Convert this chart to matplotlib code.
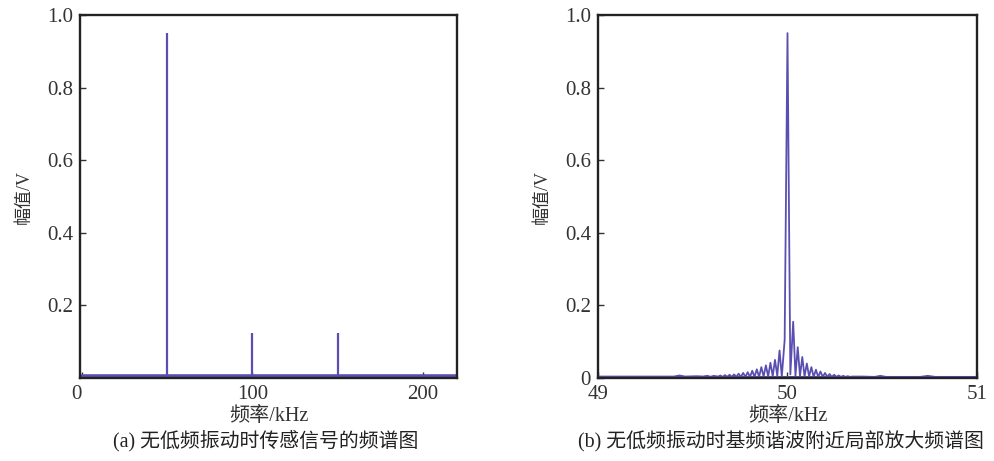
import matplotlib
matplotlib.use('Agg')
import matplotlib.pyplot as plt
import numpy as np

plt.rcParams['font.family'] = ['Liberation Serif', 'Noto Sans CJK SC']
plt.rcParams['axes.unicode_minus'] = False

line_color = '#5a4fb0'

# (a) full spectrum: harmonic lines
harm_f = [50, 100, 150]
harm_a = [0.95, 0.123, 0.123]
base_f = [-1, 220]
base_a = [0.006, 0.006]

# (b) zoom near the fundamental (kHz, V)
zoom_f = [49.00, 49.40, 49.43, 49.46, 49.52, 49.56, 49.58, 49.60,
          49.562, 49.586, 49.610, 49.634, 49.646, 49.658, 49.670, 49.682,
          49.694, 49.706, 49.718, 49.730, 49.742, 49.754, 49.766, 49.778,
          49.790, 49.802, 49.814, 49.826, 49.838, 49.850, 49.862, 49.874,
          49.886, 49.898, 49.910, 49.922, 49.934, 49.946, 49.958, 49.970,
          49.985, 50.000, 50.015, 50.030, 50.042, 50.054, 50.066, 50.078,
          50.090, 50.102, 50.114, 50.126, 50.138, 50.150, 50.162, 50.174,
          50.186, 50.198, 50.210, 50.222, 50.234, 50.246, 50.258, 50.270,
          50.282, 50.294, 50.306, 50.318, 50.330, 50.342, 50.40, 50.46,
          50.49, 50.52, 50.70, 50.74, 50.78, 51.00]
zoom_a = [0.004, 0.004, 0.007, 0.004, 0.005, 0.004, 0.006, 0.004,
          0.005, 0.004, 0.006, 0.004, 0.007, 0.003, 0.008, 0.003,
          0.009, 0.003, 0.010, 0.003, 0.012, 0.003, 0.014, 0.003,
          0.016, 0.003, 0.020, 0.003, 0.024, 0.003, 0.030, 0.004,
          0.035, 0.004, 0.042, 0.005, 0.050, 0.006, 0.076, 0.004,
          0.105, 0.950, 0.010, 0.155, 0.006, 0.085, 0.005, 0.058,
          0.004, 0.040, 0.004, 0.030, 0.003, 0.023, 0.003, 0.018,
          0.003, 0.014, 0.003, 0.011, 0.003, 0.009, 0.003, 0.007,
          0.003, 0.006, 0.003, 0.005, 0.003, 0.004, 0.004, 0.003,
          0.006, 0.003, 0.003, 0.006, 0.003, 0.003]

order = np.argsort(zoom_f)
zf = np.array(zoom_f)[order]
za = np.array(zoom_a)[order]

fig = plt.figure(figsize=(9.94, 4.61), dpi=100)
ax1 = fig.add_axes([0.0805, 0.18, 0.3793, 0.7875])
ax2 = fig.add_axes([0.6016, 0.18, 0.3813, 0.7875])

ax1.plot(base_f, base_a, color=line_color, lw=2.6)
ax1.vlines(harm_f, 0, harm_a, color=line_color, lw=1.6)
ax1.set_xlim(-1, 220)
ax1.set_ylim(0, 1.0)
ax1.set_xticks([0, 100, 200])
ax1.set_yticks([0.2, 0.4, 0.6, 0.8, 1.0])
ax1.set_yticklabels(['0.2', '0.4', '0.6', '0.8', '1.0'])

ax2.plot(zf, za, color=line_color, lw=1.3)
ax2.plot([49, 51], [0.003, 0.003], color=line_color, lw=2.2)
ax2.set_xlim(49, 51)
ax2.set_ylim(0, 1.0)
ax2.set_xticks([49, 50, 51])
ax2.set_yticks([0, 0.2, 0.4, 0.6, 0.8, 1.0])
ax2.set_yticklabels(['0', '0.2', '0.4', '0.6', '0.8', '1.0'])

for ax in (ax1, ax2):
    for s in ax.spines.values():
        s.set_linewidth(1.7)
        s.set_color('#222222')
    ax.tick_params(direction='in', length=4, width=1, labelsize=15,
                   colors='#333333', pad=5)
    ax.set_xlabel('频率/kHz', fontsize=14.5, color='#333333', labelpad=2)
    ax.set_ylabel('幅值/V', fontsize=13, color='#333333', labelpad=10)

# the "0" on panel (a) sits left of the corner
ax1.get_xticklabels()[0].set_horizontalalignment('right')

fig.text(0.267, 0.045, '(a) 无低频振动时传感信号的频谱图', ha='center',
         va='center', fontsize=14.3, color='#222222')
fig.text(0.786, 0.045, '(b) 无低频振动时基频谐波附近局部放大频谱图',
         ha='center', va='center', fontsize=14.3, color='#222222')

fig.savefig('out.png', dpi=100)
